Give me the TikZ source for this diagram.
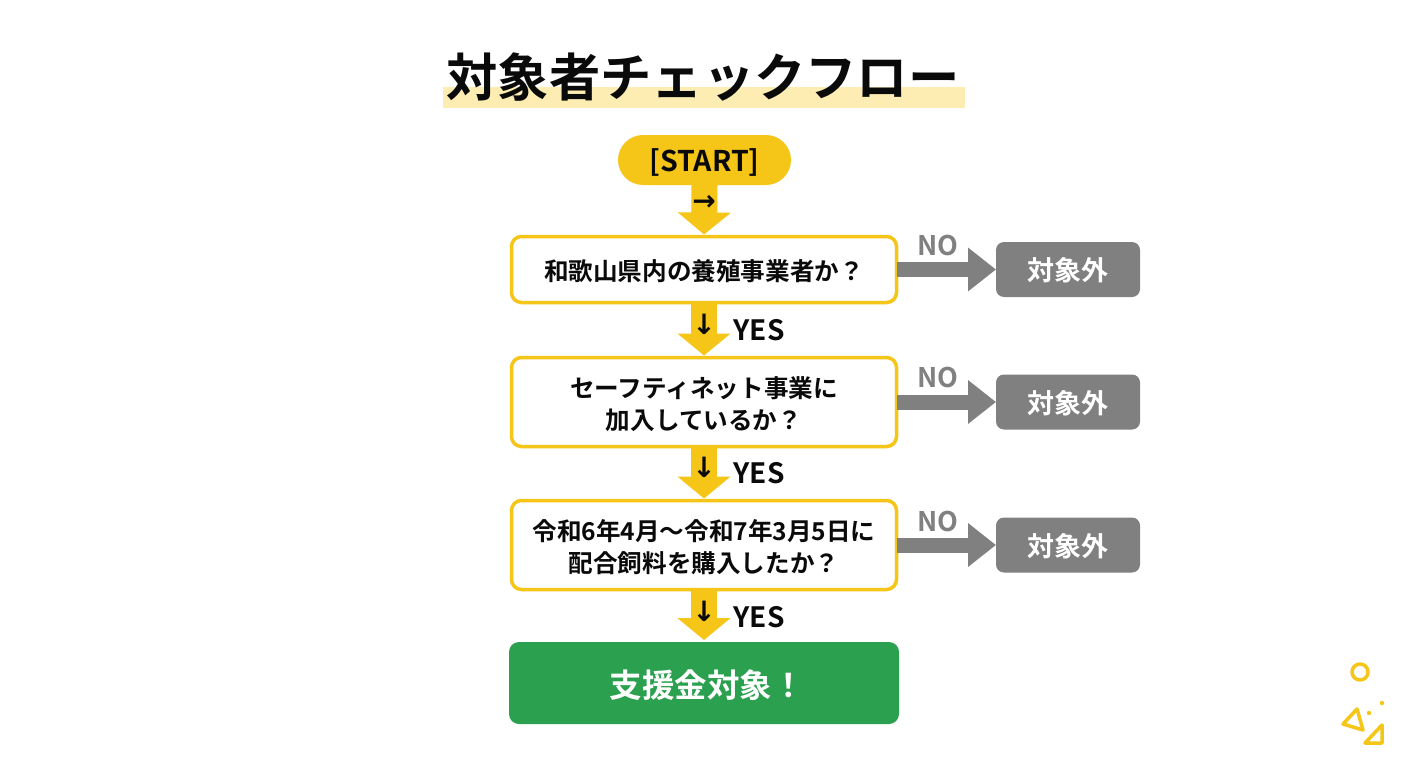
\documentclass[tikz,border=0pt]{standalone}
\usepackage{fontspec}
\setmainfont{Noto Sans CJK JP}[BoldFont={* Bold}]
\newfontfamily\arrowfont{DejaVu Sans}
\usetikzlibrary{arrows.meta,positioning}
\definecolor{ky}{HTML}{F5C518}
\definecolor{hl}{HTML}{FDEDB2}
\definecolor{gy}{HTML}{808080}
\definecolor{gr}{HTML}{2BA04F}
\definecolor{ink}{HTML}{0A0A0A}
\newcommand\lowered[2][5pt]{\raisebox{-#1}[\height][\depth]{\begin{tabular}{@{}c@{}}#2\end{tabular}}}
\tikzset{
 qbox/.style={draw=ky,line width=3.5pt,fill=white,rounded corners=10pt,minimum width=385pt,align=center,outer sep=0pt,
   font=\fontsize{24.6}{32}\bfseries\selectfont,text=ink,inner sep=0pt},
 outbox/.style={fill=gy,rounded corners=8pt,minimum width=144pt,minimum height=55pt,outer sep=0pt,inner sep=0pt,
   font=\fontsize{27}{30}\bfseries\selectfont,text=white},
 downarrow/.style={draw=ky,line width=26pt,-{Triangle[length=22pt,width=52pt]},shorten >=2pt},
 sidearrow/.style={draw=gy,line width=15pt,-{Triangle[length=28pt,width=42pt]}},
 yeslabel/.style={font=\fontsize{28}{30}\bfseries\selectfont,text=ink,inner sep=0pt},
 nolabel/.style={font=\fontsize{27}{30}\bfseries\selectfont,text=gy,inner sep=0pt},
 glyph/.style={font=\arrowfont\fontsize{28}{30}\bfseries\selectfont,text=ink,inner sep=0pt},
 deco/.style={draw=ky,line width=3.5pt,line join=round,fill=none},
}
\begin{document}
\begin{tikzpicture}[x=1pt,y=-1pt]
\useasboundingbox (0,0) rectangle (1408,768);
\fill[white] (0,0) rectangle (1408,768);
\fill[hl] (443,87) rectangle (965,108);
\node[inner sep=0pt,font=\fontsize{51.3}{56}\bfseries\selectfont,text=ink] (title) at (703,77) {対象者チェックフロー};
\node[fill=ky,rounded corners=25pt,minimum width=173pt,minimum height=50pt,outer sep=0pt,inner sep=0pt,
  font=\fontsize{28.5}{32}\bfseries\selectfont,text=ink] (start) at (704.5,160) {\lowered[4.5pt]{[START]}};
\node[qbox,minimum height=66pt] (q1) at (704,269.5) {\lowered{和歌山県内の養殖事業者か？}};
\node[qbox,minimum height=89pt] (q2) at (704,402) {\lowered{セーフティネット事業に\\加入しているか？}};
\node[qbox,minimum height=89pt] (q3) at (704,545) {\lowered{令和6年4月～令和7年3月5日に\\配合飼料を購入したか？}};
\node[fill=gr,rounded corners=10pt,minimum width=390pt,minimum height=82pt,outer sep=0pt,inner sep=0pt,
  font=\fontsize{32.5}{36}\bfseries\selectfont,text=white] (goal) at (704,683) {\hspace*{6pt}\lowered[6.5pt]{支援金対象！}};
\node[outbox] (o1) at (1068,269.5) {\lowered[4pt]{対象外}};
\node[outbox] (o2) at (1068,402) {\lowered[4pt]{対象外}};
\node[outbox] (o3) at (1068,545) {\lowered[4pt]{対象外}};
\draw[downarrow] (start.south) -- (q1.north);
\draw[downarrow] (q1.south) -- (q2.north);
\draw[downarrow] (q2.south) -- (q3.north);
\draw[downarrow] (q3.south) -- (goal.north);
\draw[sidearrow] (q1.east) -- (o1.west);
\draw[sidearrow] (q2.east) -- (o2.west);
\draw[sidearrow] (q3.east) -- (o3.west);
\node[glyph] (a0) at (704,203) {→};
\node[glyph] (a1) at (704,324) {↓};
\node[glyph] (a2) at (704,467) {↓};
\node[glyph] (a3) at (704,611) {↓};
\node[yeslabel] (y1) at (759,330) {YES};
\node[yeslabel] (y2) at (759,473) {YES};
\node[yeslabel] (y3) at (759,617) {YES};
\node[nolabel] (n1) at (938,246) {NO};
\node[nolabel] (n2) at (938,378) {NO};
\node[nolabel] (n3) at (938,522) {NO};
\draw[deco] (1360,672) circle (8);
\draw[deco] (1357,709) -- (1343,724) -- (1363,730) -- cycle;
\draw[deco] (1382,725) -- (1365,743) -- (1382,743) -- cycle;
\fill[ky] (1369,713) circle (2.2) (1382,703) circle (2.2);
\end{tikzpicture}
\end{document}
